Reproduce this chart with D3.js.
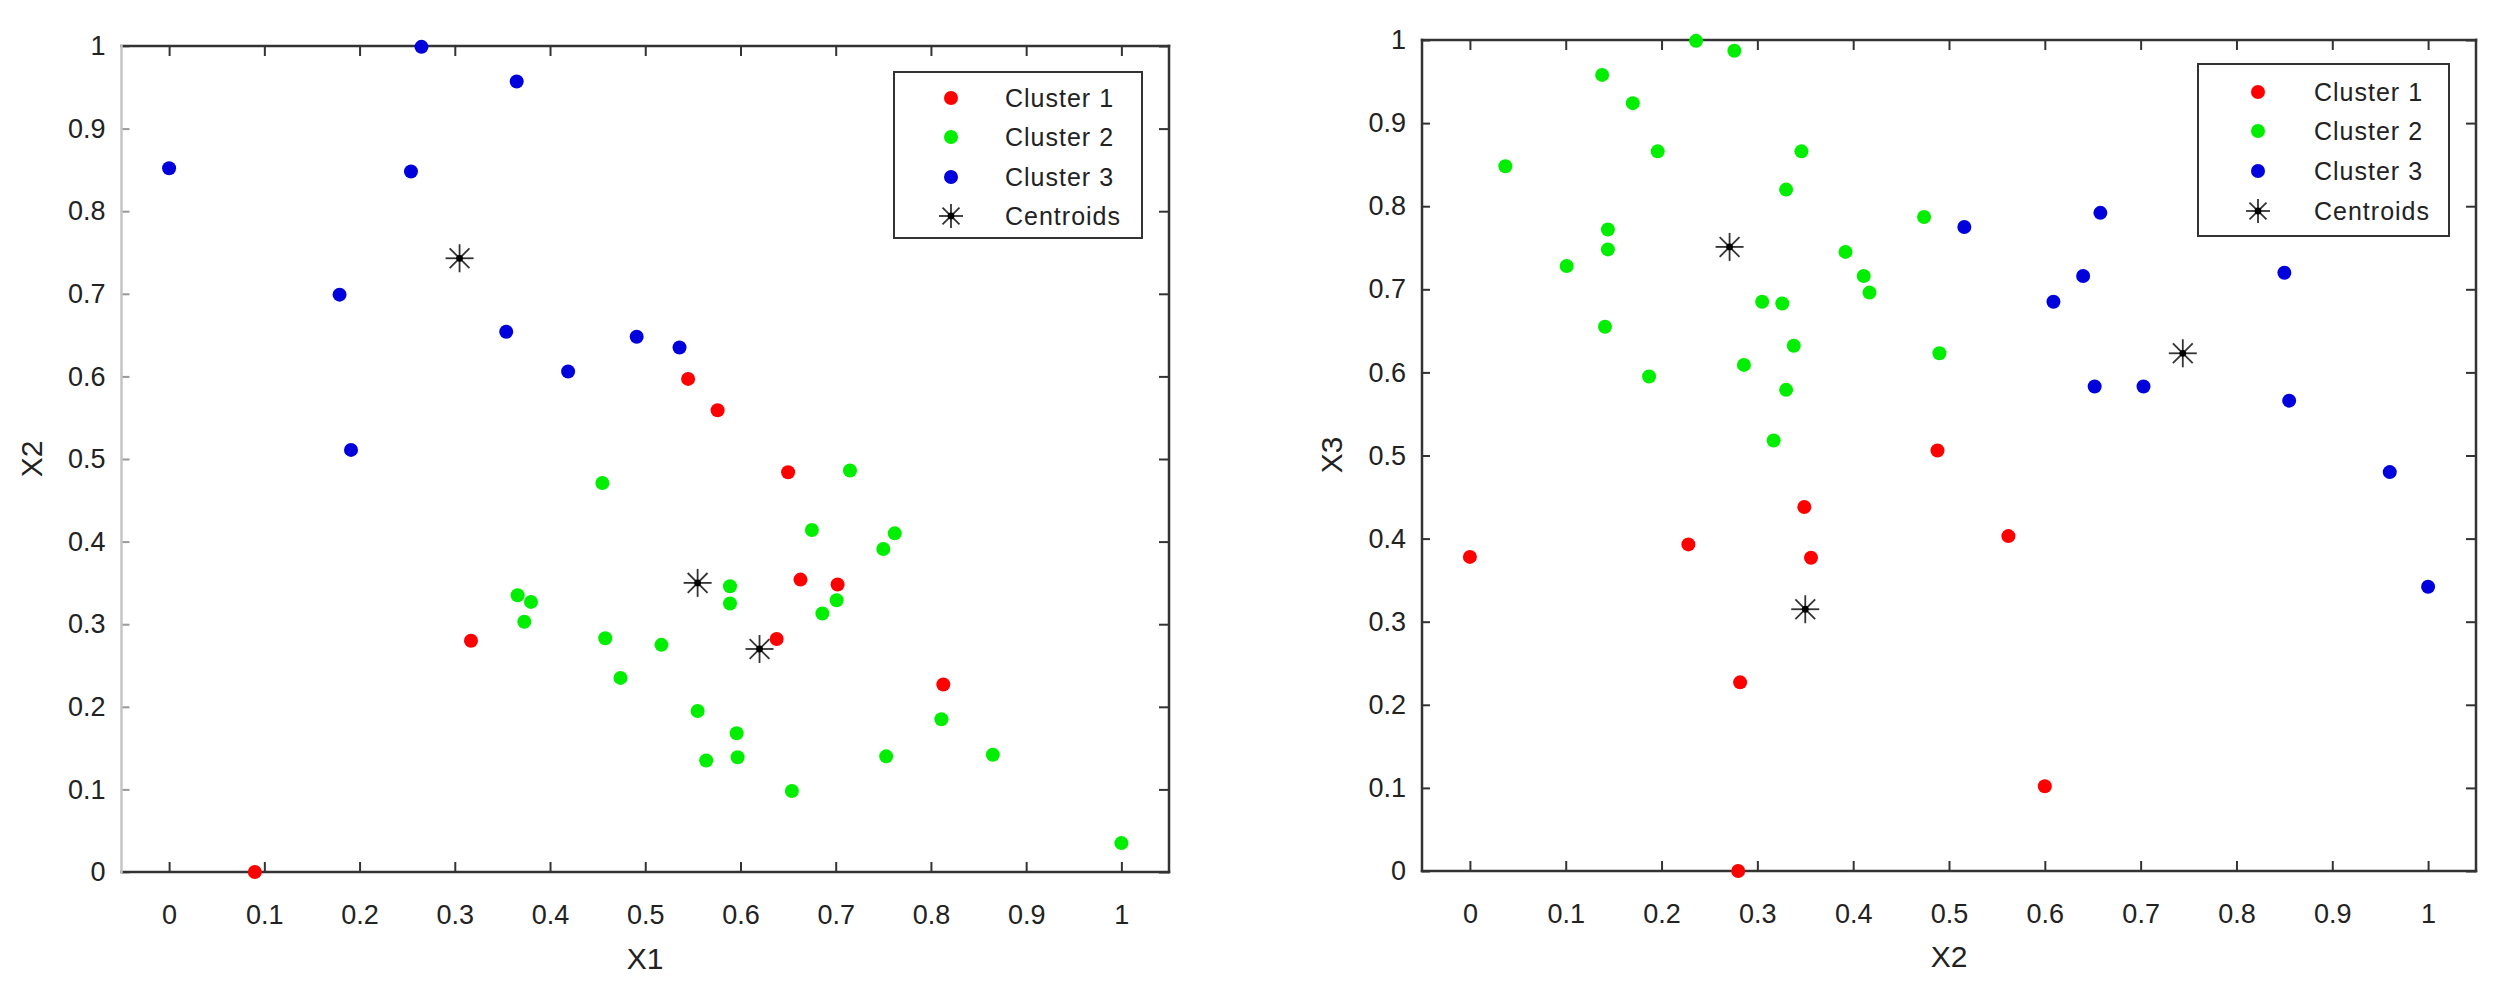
<!DOCTYPE html>
<html><head><meta charset="utf-8">
<script src="https://cdn.jsdelivr.net/npm/d3@7"></script>
<style>
html,body{margin:0;padding:0;background:#fff;}
svg{display:block;}
text{font-family:"Liberation Sans", Arial, sans-serif; fill:#222;}
</style></head><body>
<svg id="chart" width="2500" height="990"></svg>
<script>
// ---------- data ----------
const xTicks = [0, 0.1, 0.2, 0.3, 0.4, 0.5, 0.6, 0.7, 0.8, 0.9, 1];
const yTicks = [0, 0.1, 0.2, 0.3, 0.4, 0.5, 0.6, 0.7, 0.8, 0.9, 1];
const legendLabels = ["Cluster 1", "Cluster 2", "Cluster 3", "Centroids"];
const clusterColors = ["#ff0000", "#00ee00", "#0000dd"];

// Panel 1: X1 vs X2
const p1Labels = ["X1", "X2"];
const p1Cluster1 = [[0.09,0.0],[0.317,0.28],[0.545,0.597],[0.576,0.559],[0.65,0.484],[0.663,0.354],[0.702,0.348],[0.638,0.282],[0.813,0.227]];
const p1Cluster2 = [[0.455,0.471],[0.715,0.486],[0.366,0.335],[0.38,0.327],[0.373,0.303],[0.458,0.283],[0.517,0.275],[0.474,0.235],[0.555,0.195],[0.564,0.135],[0.675,0.414],[0.762,0.41],[0.75,0.391],[0.589,0.346],[0.589,0.325],[0.701,0.329],[0.686,0.313],[0.811,0.185],[0.596,0.168],[0.597,0.139],[0.753,0.14],[0.865,0.142],[0.654,0.098],[1.0,0.035]];
const p1Cluster3 = [[0.0,0.852],[0.265,0.999],[0.365,0.957],[0.254,0.848],[0.179,0.699],[0.191,0.511],[0.354,0.654],[0.419,0.606],[0.491,0.648],[0.536,0.635]];
const p1Centroids = [[0.305,0.743],[0.555,0.35],[0.62,0.27]];

// Panel 2: X2 vs X3
const p2Labels = ["X2", "X3"];
const p2Cluster1 = [[0.0,0.378],[0.228,0.393],[0.349,0.438],[0.356,0.377],[0.282,0.227],[0.28,0.0],[0.488,0.506],[0.562,0.403],[0.6,0.102]];
const p2Cluster2 = [[0.037,0.848],[0.236,0.999],[0.276,0.987],[0.138,0.958],[0.17,0.924],[0.196,0.866],[0.346,0.866],[0.33,0.82],[0.144,0.772],[0.144,0.748],[0.101,0.728],[0.392,0.745],[0.411,0.716],[0.417,0.696],[0.305,0.685],[0.326,0.683],[0.141,0.655],[0.338,0.632],[0.286,0.609],[0.187,0.595],[0.33,0.579],[0.317,0.518],[0.474,0.787],[0.49,0.623]];
const p2Cluster3 = [[0.516,0.775],[0.658,0.792],[0.64,0.716],[0.609,0.685],[0.85,0.72],[0.652,0.583],[0.703,0.583],[0.855,0.566],[0.96,0.48],[1.0,0.342]];
const p2Centroids = [[0.271,0.751],[0.744,0.623],[0.35,0.315]];

// ---------- layout ----------
const panels = [
  { labels: p1Labels, clusters: [p1Cluster1, p1Cluster2, p1Cluster3], centroids: p1Centroids,
    frame: {left: 121.5, right: 1169, top: 46, bottom: 872}, leftSpineColor: "#c4c4c4",
    xLabelPos: [645, 958], yLabelPos: [31, 459],
    legend: {x0: 894, x1: 1142, y0: 72, y1: 238, markerX: 951, textX: 1005, rows: [98, 137, 177, 216]} },
  { labels: p2Labels, clusters: [p2Cluster1, p2Cluster2, p2Cluster3], centroids: p2Centroids,
    frame: {left: 1422, right: 2476, top: 40, bottom: 871}, leftSpineColor: "#333",
    xLabelPos: [1949, 956], yLabelPos: [1331, 455],
    legend: {x0: 2198, x1: 2449, y0: 64, y1: 236, markerX: 2258, textX: 2314, rows: [92, 131, 171, 211]} }
];

const svg = d3.select("#chart");
const fmt = d3.format("~g");

function asterisk(g, cx, cy, half) {
  const angles = [0, 45, 90, 135];
  angles.forEach(a => {
    const r = a * Math.PI / 180;
    g.append("line")
      .attr("x1", cx - half * Math.cos(r)).attr("y1", cy - half * Math.sin(r))
      .attr("x2", cx + half * Math.cos(r)).attr("y2", cy + half * Math.sin(r))
      .attr("stroke", "#333").attr("stroke-width", 1.8);
  });
  g.append("circle").attr("cx", cx).attr("cy", cy).attr("r", 3.4).attr("fill", "#000");
}

panels.forEach(p => {
  const f = p.frame;
  const x = d3.scaleLinear().domain([-0.05, 1.05]).range([f.left, f.right]);
  const y = d3.scaleLinear().domain([0, 1]).range([f.bottom, f.top]);
  const g = svg.append("g");

  const styleAxis = (sel, color) => {
    sel.select(".domain").remove();
    sel.selectAll(".tick line").attr("stroke", color || "#333").attr("stroke-width", 2);
    sel.selectAll(".tick text").style("font-size", "27px").attr("fill", "#222")
      .style("font-family", '"Liberation Sans", Arial, sans-serif');
  };
  g.append("g").attr("transform", `translate(0,${f.bottom})`)
    .call(d3.axisBottom(x).tickValues(xTicks).tickFormat(fmt).tickSizeInner(-10).tickSizeOuter(0).tickPadding(33))
    .call(s => styleAxis(s));
  g.append("g").attr("transform", `translate(0,${f.top})`)
    .call(d3.axisTop(x).tickValues(xTicks).tickFormat("").tickSizeInner(-10).tickSizeOuter(0))
    .call(s => styleAxis(s));
  g.append("g").attr("transform", `translate(${f.left},0)`)
    .call(d3.axisLeft(y).tickValues(yTicks).tickFormat(fmt).tickSizeInner(-8).tickSizeOuter(0).tickPadding(16))
    .call(s => styleAxis(s, p.leftSpineColor === "#333" ? "#333" : "#999"));
  g.append("g").attr("transform", `translate(${f.right},0)`)
    .call(d3.axisRight(y).tickValues(yTicks).tickFormat("").tickSizeInner(-10).tickSizeOuter(0))
    .call(s => styleAxis(s));

  const spine = (x1, y1, x2, y2, c) => g.append("line").attr("x1", x1).attr("y1", y1).attr("x2", x2).attr("y2", y2)
    .attr("stroke", c).attr("stroke-width", 2.5).attr("stroke-linecap", "square");
  spine(f.left, f.top, f.right, f.top, "#333");
  spine(f.left, f.bottom, f.right, f.bottom, "#333");
  spine(f.right, f.top, f.right, f.bottom, "#333");
  spine(f.left, f.top, f.left, f.bottom, p.leftSpineColor);

  g.append("text").attr("x", p.xLabelPos[0]).attr("y", p.xLabelPos[1]).attr("text-anchor", "middle")
    .attr("dominant-baseline", "central").style("font-size", "30px").text(p.labels[0]);
  g.append("text").attr("transform", `translate(${p.yLabelPos[0]},${p.yLabelPos[1]}) rotate(-90)`)
    .attr("text-anchor", "middle").attr("dominant-baseline", "central").style("font-size", "30px").text(p.labels[1]);

  p.clusters.forEach((pts, i) => {
    g.append("g").selectAll("circle").data(pts).join("circle")
      .attr("cx", d => x(d[0])).attr("cy", d => y(d[1])).attr("r", 7)
      .attr("fill", clusterColors[i]);
  });
  p.centroids.forEach(d => asterisk(g, x(d[0]), y(d[1]), 14));

  const L = p.legend;
  g.append("rect").attr("x", L.x0).attr("y", L.y0).attr("width", L.x1 - L.x0).attr("height", L.y1 - L.y0)
    .attr("fill", "#fff").attr("stroke", "#333").attr("stroke-width", 2);
  legendLabels.forEach((lab, i) => {
    const ry = L.rows[i];
    if (i < 3) {
      g.append("circle").attr("cx", L.markerX).attr("cy", ry).attr("r", 7).attr("fill", clusterColors[i]);
    } else {
      asterisk(g, L.markerX, ry, 12);
    }
    g.append("text").attr("x", L.textX).attr("y", ry).attr("dominant-baseline", "central")
      .style("font-size", "25px").style("letter-spacing", "1px").text(lab);
  });
});
</script>
</body></html>
